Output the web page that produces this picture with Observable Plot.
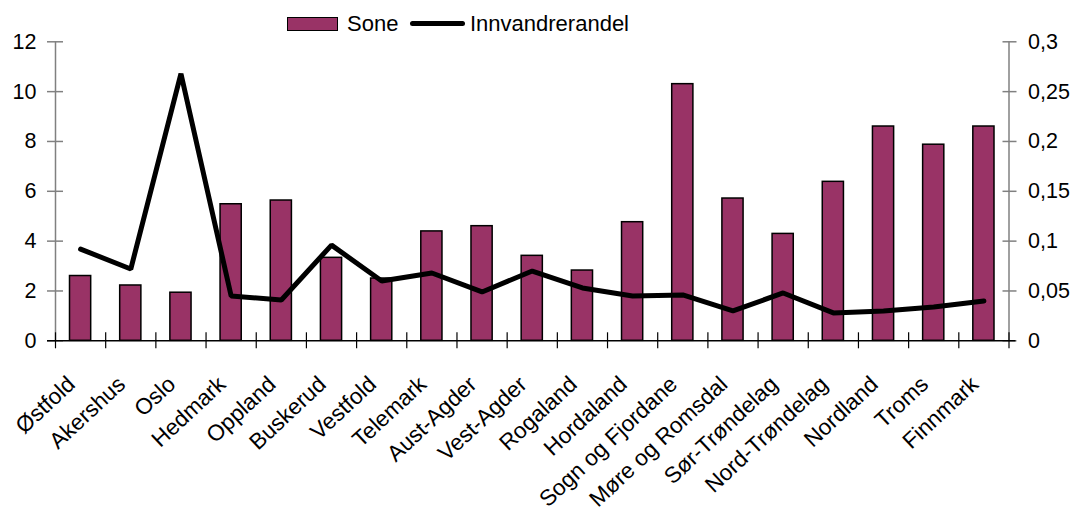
<!DOCTYPE html>
<html>
<head>
<meta charset="utf-8">
<script src="https://cdn.jsdelivr.net/npm/d3@7"></script>
<script src="https://cdn.jsdelivr.net/npm/@observablehq/plot@0.6"></script>
<style>
  body { margin: 0; background: #fff; font-family: "Liberation Sans", Arial, sans-serif; }
  #wrap { position: relative; width: 1075px; height: 509px; }
  #wrap svg { position: absolute; left: 0; top: 0; }
  .legend { position: absolute; left: 0; top: 0; width: 1075px; height: 40px; font-size: 22px; color: #000; z-index: 2; }
  .legend .sw-bar { position: absolute; left: 287px; top: 17px; width: 51px; height: 14px; box-sizing: border-box; background: #993366; border: 1.5px solid #000; }
  .legend .sw-line { position: absolute; left: 410px; top: 21px; width: 55px; height: 5px; background: #000; border-radius: 2.5px; }
  .legend span { position: absolute; top: 12px; line-height: 24px; white-space: nowrap; }
</style>
</head>
<body>
<div id="wrap">
  <div class="legend">
    <div class="sw-bar"></div><span style="left:347px">Sone</span>
    <div class="sw-line"></div><span style="left:470px">Innvandrerandel</span>
  </div>
</div>
<script>
// Fylker (counties) along the x axis
const fylker = [
  "Østfold", "Akershus", "Oslo", "Hedmark", "Oppland", "Buskerud", "Vestfold",
  "Telemark", "Aust-Agder", "Vest-Agder", "Rogaland", "Hordaland",
  "Sogn og Fjordane", "Møre og Romsdal", "Sør-Trøndelag", "Nord-Trøndelag",
  "Nordland", "Troms", "Finnmark"
];

// Sone (bars, left axis)
const sone = [2.6, 2.22, 1.93, 5.48, 5.63, 3.33, 2.5, 4.39, 4.6, 3.41, 2.82, 4.76, 10.3, 5.71, 4.29, 6.38, 8.6, 7.87, 8.6];

// Innvandrerandel (line, right axis)
const innvandrerandel = [0.092, 0.072, 0.268, 0.045, 0.041, 0.096, 0.060, 0.068, 0.049, 0.070, 0.053, 0.045, 0.046, 0.030, 0.048, 0.028, 0.030, 0.034, 0.040];

// Axis ticks
const leftTicks = [0, 2, 4, 6, 8, 10, 12];
const rightTicks = [0, 0.05, 0.1, 0.15, 0.2, 0.25, 0.3];

const leftMax = 12;
const rightMax = 0.3;
const ratio = leftMax / rightMax; // right-axis values mapped onto the left scale

const rows = fylker.map((fylke, i) => ({ fylke, i, sone: sone[i], andel: innvandrerandel[i] }));
const boundaries = d3.range(fylker.length + 1);
const fmtRight = (v) => String(+v.toFixed(2)).replace(".", ",");

const axisGrey = "#808080";

const chart = Plot.plot({
  width: 1075,
  height: 509,
  marginLeft: 55,
  marginRight: 66.5,
  marginTop: 41.3,
  marginBottom: 168.7,
  style: { fontFamily: "'Liberation Sans', Arial, sans-serif", fontSize: "21px", color: "#000", background: "transparent" },
  x: { type: "linear", domain: [0, fylker.length], axis: null },
  y: { domain: [0, leftMax], axis: null },
  marks: [
    // Bars
    Plot.rectY(rows, {
      x1: "i", x2: (d) => d.i + 1, y: "sone",
      insetLeft: 14.5, insetRight: 14.5,
      fill: "#993366", stroke: "#000", strokeWidth: 1.5
    }),
    // Vertical axis lines
    Plot.ruleX([0, fylker.length], { stroke: axisGrey, strokeWidth: 1.5 }),
    // Left axis: ticks crossing the axis line
    Plot.axisY(leftTicks, {
      anchor: "left", label: null, tickSize: 16, dx: 8, tickPadding: 11,
      stroke: axisGrey, strokeWidth: 1.5, fill: "#000", fontSize: 21.5
    }),
    // Right axis, labelled in the Innvandrerandel units
    Plot.axisY(rightTicks.map((v) => v * ratio), {
      anchor: "right", label: null, tickSize: 14, dx: -7, tickPadding: 12,
      tickFormat: (d) => fmtRight(d / ratio),
      stroke: axisGrey, strokeWidth: 1.5, fill: "#000", fontSize: 21.5
    }),
    // Category boundary ticks on the x axis
    Plot.axisX(boundaries, {
      anchor: "bottom", label: null, tickSize: 16, dy: -8, tickFormat: () => "",
      stroke: "#000", strokeWidth: 1.2
    }),
    // X axis line
    Plot.ruleY([0], { stroke: "#000", strokeWidth: 1.5, insetLeft: -8, insetRight: -7 }),
    // Rotated county labels
    Plot.text(rows, {
      x: (d) => d.i + 0.5, y: 0, text: "fylke",
      rotate: -43, textAnchor: "end", lineAnchor: "middle",
      dx: -9, dy: 40, fontSize: 22.5, fill: "#000"
    }),
    // Innvandrerandel line
    Plot.line(rows, {
      x: (d) => d.i + 0.5, y: (d) => d.andel * ratio,
      stroke: "#000", strokeWidth: 5, strokeLinejoin: "miter", strokeLinecap: "round"
    })
  ]
});

document.getElementById("wrap").appendChild(chart);
</script>
</body>
</html>
